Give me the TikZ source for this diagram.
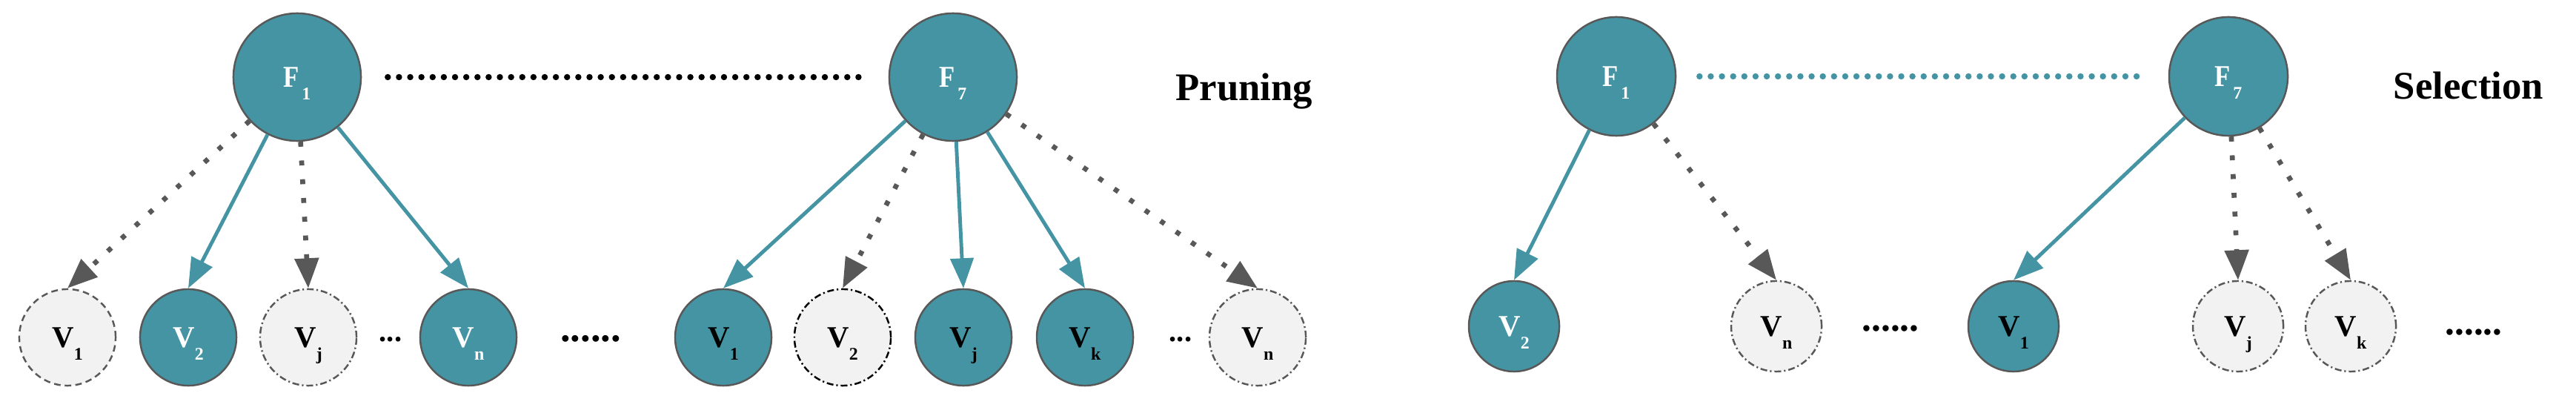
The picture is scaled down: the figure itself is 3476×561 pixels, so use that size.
\documentclass[tikz,border=0pt]{standalone}
\usepackage{graphicx}
\usepackage{fontspec}
\setmainfont{Liberation Serif}
\usetikzlibrary{arrows.meta}
\definecolor{tealc}{RGB}{69,148,164}
\definecolor{rimc}{RGB}{88,88,88}
\definecolor{dropc}{RGB}{88,88,88}
\definecolor{paleg}{RGB}{242,242,242}
\newcommand{\lowsub}[1]{\smash{\raisebox{-5pt}{\fontsize{6.8}{7}\selectfont #1}}}
\newcommand{\flab}[1]{\scalebox{.85}[1]{F}\kern1pt\lowsub{#1}}
\begin{document}
\begin{tikzpicture}[x=.01cm,y=-.01cm,font=\fontsize{11.6}{12}\selectfont\bfseries,
  fnode/.style={circle,draw=rimc,line width=.7pt,fill=tealc,text=white,inner sep=0pt,minimum size=1.72cm},
  vin/.style={circle,draw=rimc,line width=.7pt,fill=tealc,text=white,inner sep=0pt,minimum size=1.3cm},
  vinb/.style={vin,text=black},
  vout/.style={circle,draw=rimc,line width=.7pt,fill=paleg,inner sep=0pt,minimum size=1.3cm,dash pattern=on 2.5pt off 1.6pt},
  voutd/.style={vout,dash pattern=on 2.6pt off 1.1pt on .6pt off 1.1pt},
  voutk/.style={voutd,draw=black},
  keep/.style={draw=tealc,line width=1.4pt,-{Triangle[length=11.5pt,width=8.8pt]}},
  drop/.style={draw=dropc,line width=1.9pt,dash pattern=on 1.9pt off 5.3pt,-{Triangle[length=11.5pt,width=9pt]}},
  dotrow/.style={line width=2.4pt,line cap=round,dash pattern=on 0pt off 4.3pt},
  title/.style={anchor=base,font=\fontsize{15}{16}\selectfont\bfseries}]
\useasboundingbox (0,0) rectangle (3476,561);
% pruning
\node[fnode] (pf1) at (401,104) {\flab{1}};
\node[fnode] (pf7) at (1286,104) {\flab{7}};
\foreach \n/\x/\st/\t in {pa1/91/vout/1,pa2/254/vin/2,paj/416/voutd/j,pan/632/vin/n,
  pb1/976/vinb/1,pb2/1137/voutk/2,pbj/1300/vinb/j,pbk/1464/vinb/k,pbn/1697/voutd/n}
  {\node[\st] (\n) at (\x,455) {V\lowsub{\t}};}
\node[anchor=base] (pdots1) at (527,461) {...};
\node[anchor=base,font=\fontsize{15.5}{16}\selectfont\bfseries] (pdots2) at (797,461) {......};
\node[anchor=base] (pdots3) at (1593,461) {...};
\node[title] (prune) at (1679,136) {Pruning};
\draw[dotrow,shorten <=.35cm,shorten >=.32cm] (pf1) -- (pf7);
\foreach \a/\b/\st in {pf1/pa1/drop,pf1/pa2/keep,pf1/paj/drop,pf1/pan/keep,
  pf7/pb1/keep,pf7/pb2/drop,pf7/pbj/keep,pf7/pbk/keep,pf7/pbn/drop}
  {\draw[\st] (\a) -- (\b.north);}
% selection
\node[fnode,minimum size=1.6cm] (sf1) at (2181,103) {\flab{1}};
\node[fnode,minimum size=1.6cm] (sf7) at (3007,103) {\flab{7}};
\foreach \n/\x/\st/\t in {s2/2043/vin/2,sn/2397/voutd/n,s1/2717/vinb/1,sj/3020/voutd/j,sk/3172/voutd/k}
  {\node[\st,minimum size=1.22cm] (\n) at (\x,440) {V\lowsub{\t}};}
\node[anchor=base,font=\fontsize{14.6}{16}\selectfont\bfseries] (sdots1) at (2551,446) {......};
\node[anchor=base,font=\fontsize{14.6}{16}\selectfont\bfseries] (sdots2) at (3338,452) {......};
\node[title] (select) at (3331,134) {Selection};
\draw[dotrow,draw=tealc,shorten <=.31cm,shorten >=.32cm] (sf1) -- (sf7);
\foreach \a/\b/\st in {sf1/s2/keep,sf1/sn/drop,sf7/s1/keep,sf7/sj/drop,sf7/sk/drop}
  {\draw[\st] (\a) -- (\b.north);}
\end{tikzpicture}
\end{document}
